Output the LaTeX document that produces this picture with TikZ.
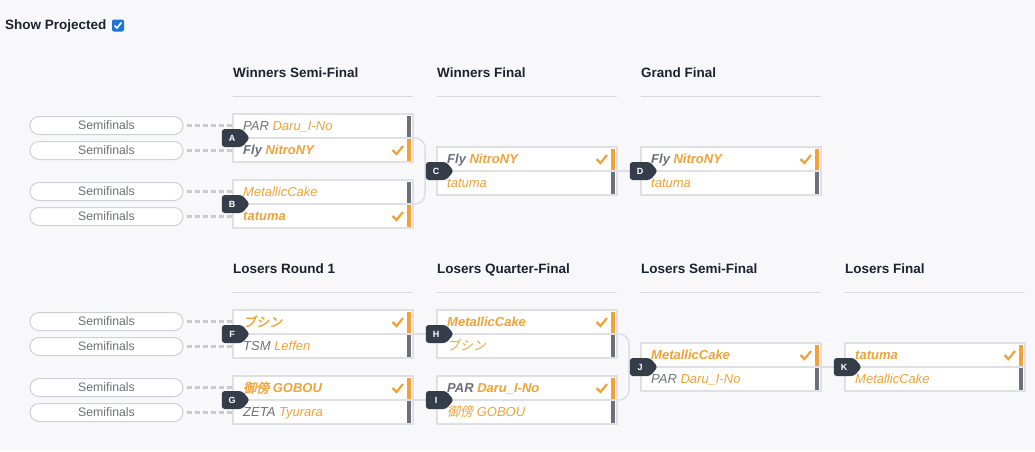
\documentclass[tikz,border=0pt]{standalone}
\usepackage{fontspec}
\setmainfont{Liberation Sans}
\newfontfamily\cjk[AutoFakeSlant=0.2,AutoFakeBold=1.5]{Noto Sans CJK JP}
\usetikzlibrary{shapes.symbols,positioning}

\definecolor{pagebg}{HTML}{F8F8FA}
\definecolor{boxedge}{HTML}{DEE0E4}
\definecolor{conncol}{HTML}{DCDEE2}
\definecolor{dashcol}{HTML}{C9CBD0}
\definecolor{orng}{HTML}{F0A236}
\definecolor{greytxt}{HTML}{6D7079}
\definecolor{bargrey}{HTML}{6B7079}
\definecolor{badgecol}{HTML}{363D4A}
\definecolor{headtxt}{HTML}{1B2230}
\definecolor{headrule}{HTML}{D6D8DC}
\definecolor{pilledge}{HTML}{CDD0D6}
\definecolor{pilltxt}{HTML}{6E7076}
\definecolor{tickblue}{HTML}{1C74D8}

\tikzset{
  mbox/.style={rectangle,draw=boxedge,fill=white,line width=1.5pt,minimum width=180pt,minimum height=48pt,inner sep=0pt},
  boxline/.style={draw=boxedge,line width=1.5pt},
  winrow/.style={anchor=west,inner sep=0pt,text height=9.4pt,text depth=0pt,font=\fontsize{13}{15}\selectfont\bfseries\itshape,text=orng},
  loserow/.style={anchor=west,inner sep=0pt,text height=9.4pt,text depth=0pt,font=\fontsize{13}{15}\selectfont\itshape,text=orng},
  barwin/.style={fill=orng},
  barlose/.style={fill=bargrey},
  tick/.style={draw=orng,line width=2.2pt},
  badge/.style={signal,signal to=east,signal pointer angle=100,fill=badgecol,text=white,rounded corners=3pt,minimum width=28pt,minimum height=18pt,inner sep=0pt,font=\fontsize{9}{10}\selectfont\bfseries},
  conn/.style={draw=conncol,line width=1.5pt},
  feed/.style={draw=dashcol,line width=3pt,dash pattern=on 5pt off 3pt},
  pill/.style={rectangle,rounded corners=9pt,draw=pilledge,fill=white,line width=1pt,minimum width=153pt,minimum height=18pt,inner sep=0pt,text=pilltxt,font=\fontsize{12.3}{14}\selectfont},
  head/.style={anchor=west,inner sep=0pt,text height=9.8pt,text depth=0pt,text=headtxt,font=\fontsize{13.5}{16}\selectfont\bfseries},
  headline/.style={draw=headrule,line width=1pt}
}

% sponsor tag in grey
\newcommand{\tagg}[1]{\textcolor{greytxt}{#1}}

% #1 name, #2 x, #3 y (top left), #4 top row, #5 bottom row, #6 winner row (1 or 2)
\newcommand{\matchbox}[6]{
  \node[mbox] (m#1) at (#2+90,#3+24) {};
  \draw[boxline] (m#1.west) -- (m#1.east);
  \ifnum#6=1
    \node[winrow] (#1t) at (#2+10,#3+12) {#4};
    \node[loserow] (#1b) at (#2+10,#3+36) {#5};
    \fill[barwin] (#2+174,#3+1.5) rectangle (#2+178,#3+23);
    \fill[barlose] (#2+174,#3+25) rectangle (#2+178,#3+46.5);
    \draw[tick] (#2+159.5,#3+12) -- (#2+163.5,#3+16) -- (#2+170,#3+8);
  \else
    \node[loserow] (#1t) at (#2+10,#3+12) {#4};
    \node[winrow] (#1b) at (#2+10,#3+36) {#5};
    \fill[barlose] (#2+174,#3+1.5) rectangle (#2+178,#3+23);
    \fill[barwin] (#2+174,#3+25) rectangle (#2+178,#3+46.5);
    \draw[tick] (#2+159.5,#3+36) -- (#2+163.5,#3+40) -- (#2+170,#3+32);
  \fi
}

\begin{document}
\begin{tikzpicture}[x=1pt,y=-1pt]
\fill[pagebg] (0,0) rectangle (1035,451);
\useasboundingbox (0,0) rectangle (1035,451);

% show projected toggle
\node[head] (showlbl) at (5,25) {Show Projected};
\node[fill=tickblue,rounded corners=2pt,minimum size=12pt,inner sep=0pt] (showbox) at (118,25.5) {};
\draw[white,line width=1.6pt] (114.5,25.5) -- (117,28) -- (121.5,22.5);

% round headers
\node[head] (hws) at (233,73) {Winners Semi-Final};
\node[head] (hwf) at (437,73) {Winners Final};
\node[head] (hgf) at (641,73) {Grand Final};
\node[head] (hlr) at (233,269) {Losers Round 1};
\node[head] (hlq) at (437,269) {Losers Quarter-Final};
\node[head] (hls) at (641,269) {Losers Semi-Final};
\node[head] (hlf) at (845,269) {Losers Final};
\draw[headline] (233,96) -- (413,96);
\draw[headline] (437,96) -- (617,96);
\draw[headline] (641,96) -- (821,96);
\draw[headline] (233,292) -- (413,292);
\draw[headline] (437,292) -- (617,292);
\draw[headline] (641,292) -- (821,292);
\draw[headline] (845,292) -- (1025,292);

% connectors between matches
\draw[conn,rounded corners=10pt] (413,138) -- (425,138) |- (413,204);
\draw[conn] (425,171) -- (437,171);
\draw[conn] (617,171) -- (641,171);
\draw[conn] (413,334) -- (437,334);
\draw[conn] (413,400) -- (437,400);
\draw[conn,rounded corners=10pt] (617,334) -- (629,334) |- (617,400);
\draw[conn] (629,367) -- (641,367);
\draw[conn] (821,367) -- (845,367);

% matches
\matchbox{A}{233}{114}{\tagg{PAR} Daru\_I-No}{\tagg{Fly} NitroNY}{2}
\matchbox{B}{233}{180}{MetallicCake}{tatuma}{2}
\matchbox{C}{437}{147}{\tagg{Fly} NitroNY}{tatuma}{1}
\matchbox{D}{641}{147}{\tagg{Fly} NitroNY}{tatuma}{1}
\matchbox{F}{233}{310}{{\cjk ブシン}}{\tagg{TSM} Leffen}{1}
\matchbox{G}{233}{376}{{\cjk 御傍} GOBOU}{\tagg{ZETA} Tyurara}{1}
\matchbox{H}{437}{310}{MetallicCake}{{\cjk ブシン}}{1}
\matchbox{I}{437}{376}{\tagg{PAR} Daru\_I-No}{{\cjk 御傍} GOBOU}{1}
\matchbox{J}{641}{343}{MetallicCake}{\tagg{PAR} Daru\_I-No}{1}
\matchbox{K}{845}{343}{tatuma}{MetallicCake}{1}

% feeder slots
\node[pill] (pA1) at (106.5,125.5) {Semifinals};
\node[pill] (pA2) at (106.5,150.5) {Semifinals};
\node[pill] (pB1) at (106.5,191.5) {Semifinals};
\node[pill] (pB2) at (106.5,216.5) {Semifinals};
\node[pill] (pF1) at (106.5,321.5) {Semifinals};
\node[pill] (pF2) at (106.5,346.5) {Semifinals};
\node[pill] (pG1) at (106.5,387.5) {Semifinals};
\node[pill] (pG2) at (106.5,412.5) {Semifinals};
\draw[feed] (pA1.east) ++(3,0) -- (pA1.east -| mA.west);
\draw[feed] (pA2.east) ++(3,0) -- (pA2.east -| mA.west);
\draw[feed] (pB1.east) ++(3,0) -- (pB1.east -| mB.west);
\draw[feed] (pB2.east) ++(3,0) -- (pB2.east -| mB.west);
\draw[feed] (pF1.east) ++(3,0) -- (pF1.east -| mF.west);
\draw[feed] (pF2.east) ++(3,0) -- (pF2.east -| mF.west);
\draw[feed] (pG1.east) ++(3,0) -- (pG1.east -| mG.west);
\draw[feed] (pG2.east) ++(3,0) -- (pG2.east -| mG.west);

% match letters
\node[badge] (A) at (232,138) {A};
\node[badge] (B) at (232,204) {B};
\node[badge] (C) at (436,171) {C};
\node[badge] (D) at (640,171) {D};
\node[badge] (F) at (232,334) {F};
\node[badge] (G) at (232,400) {G};
\node[badge] (H) at (436,334) {H};
\node[badge] (I) at (436,400) {I};
\node[badge] (J) at (640,367) {J};
\node[badge] (K) at (844,367) {K};
\end{tikzpicture}
\end{document}
